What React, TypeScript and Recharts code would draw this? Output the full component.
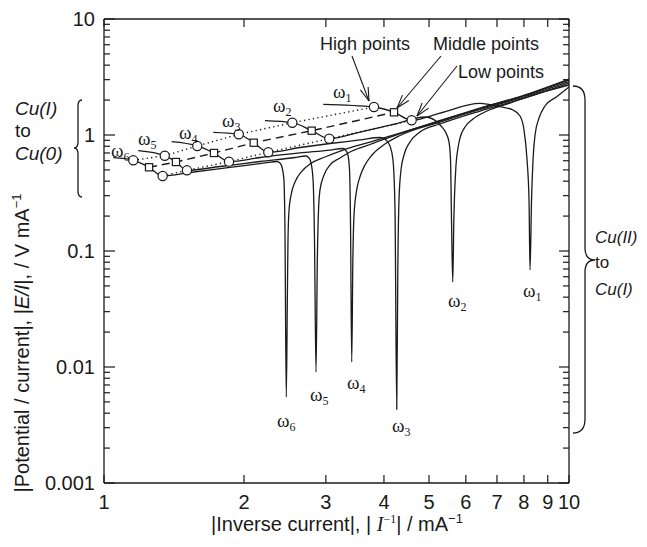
import React from "react";
import { LineChart, Line, XAxis, YAxis } from "recharts";

// ---- data (x = |1/I| mA^-1, y = |E/I| V mA^-1) ----
const w1 = [
  { x: 2.962, y: 1.839 }, { x: 3.807, y: 1.743 }, { x: 4.204, y: 1.569 }, { x: 4.588, y: 1.339 },
  { x: 5.279, y: 1.547 }, { x: 6.436, y: 1.87 }, { x: 7.107, y: 1.754 }, { x: 7.58, y: 1.643 },
  { x: 7.847, y: 1.458 }, { x: 8.004, y: 1.104 }, { x: 8.124, y: 0.609 }, { x: 8.204, y: 0.275 },
  { x: 8.245, y: 0.0686 }, { x: 8.307, y: 0.275 }, { x: 8.368, y: 0.609 }, { x: 8.452, y: 1.0 },
  { x: 8.621, y: 1.401 }, { x: 8.879, y: 1.778 }, { x: 9.409, y: 2.139 }, { x: 10, y: 2.594 },
];
const w2 = [
  { x: 2.219, y: 1.328 }, { x: 2.541, y: 1.276 }, { x: 2.797, y: 1.089 }, { x: 3.051, y: 0.929 },
  { x: 3.552, y: 1.061 }, { x: 4.225, y: 1.244 }, { x: 4.901, y: 1.429 }, { x: 5.176, y: 1.32 },
  { x: 5.305, y: 1.196 }, { x: 5.439, y: 1.04 }, { x: 5.52, y: 0.87 }, { x: 5.562, y: 0.609 },
  { x: 5.589, y: 0.185 }, { x: 5.623, y: 0.054 }, { x: 5.654, y: 0.185 }, { x: 5.715, y: 0.551 },
  { x: 5.772, y: 0.773 }, { x: 5.829, y: 0.942 }, { x: 5.975, y: 1.172 }, { x: 6.217, y: 1.374 },
  { x: 6.664, y: 1.61 }, { x: 7.466, y: 1.887 }, { x: 8.663, y: 2.302 }, { x: 10, y: 2.698 },
];
const w3 = [
  { x: 1.718, y: 1.055 }, { x: 1.949, y: 1.014 }, { x: 2.099, y: 0.858 }, { x: 2.256, y: 0.71 },
  { x: 2.639, y: 0.78 }, { x: 3.062, y: 0.845 }, { x: 3.552, y: 0.906 }, { x: 3.923, y: 0.952 },
  { x: 4.041, y: 0.906 }, { x: 4.121, y: 0.804 }, { x: 4.183, y: 0.609 }, { x: 4.225, y: 0.2257 },
  { x: 4.261, y: 0.00432 }, { x: 4.284, y: 0.0686 }, { x: 4.309, y: 0.275 }, { x: 4.352, y: 0.499 },
  { x: 4.417, y: 0.672 }, { x: 4.55, y: 0.87 }, { x: 4.781, y: 1.061 }, { x: 5.28, y: 1.244 },
  { x: 6.436, y: 1.61 }, { x: 7.847, y: 2.023 }, { x: 10, y: 2.807 },
];
const w4 = [
  { x: 1.398, y: 0.876 }, { x: 1.587, y: 0.804 }, { x: 1.724, y: 0.7 }, { x: 1.857, y: 0.589 },
  { x: 2.165, y: 0.64 }, { x: 2.639, y: 0.7 }, { x: 3.062, y: 0.742 }, { x: 3.266, y: 0.765 },
  { x: 3.314, y: 0.735 }, { x: 3.347, y: 0.672 }, { x: 3.373, y: 0.499 }, { x: 3.389, y: 0.185 },
  { x: 3.41, y: 0.01104 }, { x: 3.429, y: 0.0836 }, { x: 3.449, y: 0.2044 }, { x: 3.495, y: 0.336 },
  { x: 3.552, y: 0.437 }, { x: 3.641, y: 0.551 }, { x: 3.77, y: 0.672 }, { x: 4.021, y: 0.836 },
  { x: 4.331, y: 0.99 }, { x: 5.28, y: 1.294 }, { x: 6.436, y: 1.659 }, { x: 7.847, y: 2.084 },
  { x: 10, y: 2.892 },
];
const w5 = [
  { x: 1.185, y: 0.732 }, { x: 1.351, y: 0.663 }, { x: 1.428, y: 0.585 }, { x: 1.508, y: 0.496 },
  { x: 1.776, y: 0.535 }, { x: 2.165, y: 0.591 }, { x: 2.575, y: 0.64 }, { x: 2.719, y: 0.659 },
  { x: 2.76, y: 0.633 }, { x: 2.788, y: 0.574 }, { x: 2.816, y: 0.409 }, { x: 2.836, y: 0.1244 },
  { x: 2.857, y: 0.00905 }, { x: 2.876, y: 0.0836 }, { x: 2.893, y: 0.2257 }, { x: 2.914, y: 0.336 },
  { x: 2.973, y: 0.452 }, { x: 3.062, y: 0.551 }, { x: 3.218, y: 0.633 }, { x: 3.414, y: 0.728 },
  { x: 3.733, y: 0.828 }, { x: 4.331, y: 1.03 }, { x: 5.28, y: 1.32 }, { x: 6.436, y: 1.692 },
  { x: 7.847, y: 2.126 }, { x: 10, y: 2.98 },
];
const w6 = [
  { x: 1.047, y: 0.637 }, { x: 1.156, y: 0.605 }, { x: 1.25, y: 0.527 }, { x: 1.337, y: 0.443 },
  { x: 1.531, y: 0.475 }, { x: 1.866, y: 0.525 }, { x: 2.22, y: 0.574 }, { x: 2.355, y: 0.591 },
  { x: 2.39, y: 0.574 }, { x: 2.414, y: 0.53 }, { x: 2.438, y: 0.409 }, { x: 2.45, y: 0.152 },
  { x: 2.466, y: 0.00551 }, { x: 2.479, y: 0.0378 }, { x: 2.487, y: 0.1244 }, { x: 2.5, y: 0.2257 },
  { x: 2.525, y: 0.304 }, { x: 2.575, y: 0.393 }, { x: 2.666, y: 0.489 }, { x: 2.773, y: 0.562 },
  { x: 2.987, y: 0.646 }, { x: 3.266, y: 0.742 }, { x: 3.733, y: 0.87 }, { x: 4.331, y: 1.04 },
  { x: 5.28, y: 1.334 }, { x: 6.436, y: 1.709 }, { x: 7.847, y: 2.147 }, { x: 10, y: 3.04 },
];
const highPts = [
  { x: 1.156, y: 0.605 }, { x: 1.351, y: 0.663 }, { x: 1.587, y: 0.804 },
  { x: 1.949, y: 1.014 }, { x: 2.541, y: 1.276 }, { x: 3.807, y: 1.743 },
];
const midPts = [
  { x: 1.25, y: 0.527 }, { x: 1.428, y: 0.585 }, { x: 1.724, y: 0.7 },
  { x: 2.099, y: 0.858 }, { x: 2.797, y: 1.089 }, { x: 4.204, y: 1.569 },
];
const lowPts = [
  { x: 1.337, y: 0.443 }, { x: 1.508, y: 0.496 }, { x: 1.857, y: 0.589 },
  { x: 2.256, y: 0.71 }, { x: 3.051, y: 0.929 }, { x: 4.588, y: 1.339 },
];
const xTicks = [1, 2, 3, 4, 5, 6, 7, 8, 9, 10];
const yTicks = [
  0.001, 0.002, 0.003, 0.004, 0.005, 0.006, 0.007, 0.008, 0.009,
  0.01, 0.02, 0.03, 0.04, 0.05, 0.06, 0.07, 0.08, 0.09,
  0.1, 0.2, 0.3, 0.4, 0.5, 0.6, 0.7, 0.8, 0.9,
  1, 2, 3, 4, 5, 6, 7, 8, 9, 10,
];
const yLabelled = [0.001, 0.01, 0.1, 1, 10];

const SANS = "'Liberation Sans', Arial, Helvetica, sans-serif";
const SERIF = "'Liberation Serif', 'Times New Roman', serif";
const INK = "#1a1a1a";

const BottomTick = (p: any) => (
  <g>
    <line x1={p.x} x2={p.x} y1={p.y} y2={p.y - 8} stroke={INK} strokeWidth={1.2} />
    <text x={p.x} y={p.y + 26} textAnchor="middle" fontSize={20} fontFamily={SANS} fill={INK}>
      {p.payload.value}
    </text>
  </g>
);
const TopTick = (p: any) => (
  <line x1={p.x} x2={p.x} y1={p.y} y2={p.y + 8} stroke={INK} strokeWidth={1.2} />
);
const LeftTick = (p: any) => {
  const major = yLabelled.includes(p.payload.value);
  return (
    <g>
      <line x1={p.x} x2={p.x + (major ? 11 : 6)} y1={p.y} y2={p.y} stroke={INK} strokeWidth={1.2} />
      {major && (
        <text x={p.x - 9} y={p.y} dy="0.36em" textAnchor="end" fontSize={20} fontFamily={SANS} fill={INK}>
          {String(p.payload.value)}
        </text>
      )}
    </g>
  );
};
const RightTick = (p: any) => {
  const major = yLabelled.includes(p.payload.value);
  return <line x1={p.x} x2={p.x - (major ? 10 : 6)} y1={p.y} y2={p.y} stroke={INK} strokeWidth={1.2} />;
};

const CircleDot = (p: any) =>
  p.cx == null ? null : (
    <circle key={`c${p.index}`} cx={p.cx} cy={p.cy} r={4.6} fill="#fff" stroke={INK} strokeWidth={1.2} />
  );
const SquareDot = (p: any) =>
  p.cx == null ? null : (
    <rect key={`s${p.index}`} x={p.cx - 3.6} y={p.cy - 3.6} width={7.2} height={7.2} fill="#fff" stroke={INK} strokeWidth={1.2} />
  );

const Omega = ({ x, y, n }: { x: number; y: number; n: number }) => (
  <text x={x} y={y} fontFamily={SERIF} fontSize={19} fill={INK}>
    ω<tspan fontSize={12} dy={4}>{n}</tspan>
  </text>
);

const Arrow = ({ x1, y1, x2, y2 }: { x1: number; y1: number; x2: number; y2: number }) => {
  const a = Math.atan2(y2 - y1, x2 - x1);
  const L = 14;
  const s = 0.3;
  const h1x = x2 - L * Math.cos(a - s), h1y = y2 - L * Math.sin(a - s);
  const h2x = x2 - L * Math.cos(a + s), h2y = y2 - L * Math.sin(a + s);
  return (
    <g stroke={INK} strokeWidth={1.1} fill="none">
      <line x1={x1} y1={y1} x2={x2} y2={y2} />
      <line x1={h1x} y1={h1y} x2={x2} y2={y2} />
      <line x1={h2x} y1={h2y} x2={x2} y2={y2} />
    </g>
  );
};

const curves = [w1, w2, w3, w4, w5, w6];

export default function App() {
  return (
    <div style={{ position: "relative", width: 631, height: 528 }}>
      <LineChart width={631} height={528} margin={{ top: 10, right: 0, bottom: 0, left: 0 }}>
        <XAxis
          xAxisId="b" type="number" dataKey="x" scale="log" domain={[1, 10]} allowDataOverflow
          ticks={xTicks} interval={0} height={53} tickSize={0} tickMargin={0}
          tick={<BottomTick />} tickLine={false} axisLine={{ stroke: INK, strokeWidth: 1.3 }}
        />
        <XAxis
          xAxisId="t" orientation="top" type="number" dataKey="x" scale="log" domain={[1, 10]} allowDataOverflow
          ticks={xTicks} interval={0} height={1} tickSize={0} tickMargin={0}
          tick={<TopTick />} tickLine={false} axisLine={{ stroke: INK, strokeWidth: 1.3 }}
        />
        <YAxis
          yAxisId="l" type="number" dataKey="y" scale="log" domain={[0.001, 10]} allowDataOverflow
          ticks={yTicks} interval={0} width={96} tickSize={0} tickMargin={0}
          tick={<LeftTick />} tickLine={false} axisLine={{ stroke: INK, strokeWidth: 1.3 }}
        />
        <YAxis
          yAxisId="r" orientation="right" type="number" dataKey="y" scale="log" domain={[0.001, 10]} allowDataOverflow
          ticks={yTicks} interval={0} width={70} tickSize={0} tickMargin={0}
          tick={<RightTick />} tickLine={false} axisLine={{ stroke: INK, strokeWidth: 1.3 }}
        />
        <Line data={w1} xAxisId="t" yAxisId="r" dataKey="y" stroke="none" dot={false} isAnimationActive={false} />
        {curves.map((c, i) => (
          <Line
            key={`w${i}`} data={c} xAxisId="b" yAxisId="l" dataKey="y" type="monotone"
            stroke={INK} strokeWidth={1.3} dot={false} isAnimationActive={false}
          />
        ))}
        <Line data={highPts} xAxisId="b" yAxisId="l" dataKey="y" type="linear" stroke={INK}
          strokeWidth={1.4} strokeDasharray="1.3 3.2" dot={<CircleDot />} isAnimationActive={false} />
        <Line data={midPts} xAxisId="b" yAxisId="l" dataKey="y" type="linear" stroke={INK}
          strokeWidth={1.4} strokeDasharray="8 5" dot={<SquareDot />} isAnimationActive={false} />
        <Line data={lowPts} xAxisId="b" yAxisId="l" dataKey="y" type="linear" stroke={INK}
          strokeWidth={1.4} strokeDasharray="1.3 3.2" dot={<CircleDot />} isAnimationActive={false} />
      </LineChart>
      <svg width={631} height={528} style={{ position: "absolute", left: 0, top: 0, pointerEvents: "none" }}>
        {/* axis titles */}
        <text transform="translate(21,335) rotate(-90)" textAnchor="middle" fontSize={20} fontFamily={SANS} fill={INK}>
          |Potential / current|, |<tspan fontStyle="italic">E/I</tspan>|, / V mA<tspan fontSize={13} dy={-8}>−1</tspan>
        </text>
        <text x={329} y={523} textAnchor="middle" fontSize={20} fontFamily={SANS} fill={INK}>
          |Inverse current|, |{" "}<tspan fontFamily={SERIF} fontStyle="italic">I</tspan>
          <tspan fontSize={12} dy={-8} fontFamily={SERIF}>−1</tspan>
          <tspan dy={8}>| / mA</tspan>
          <tspan fontSize={13} dy={-8}>−1</tspan>
        </text>
        {/* left brace & label */}
        <text x={7} y={107} fontSize={19} fontFamily={SANS} fontStyle="italic" fill={INK}>Cu(I)</text>
        <text x={7} y={129} fontSize={19} fontFamily={SANS} fill={INK}>to</text>
        <text x={7} y={152} fontSize={19} fontFamily={SANS} fontStyle="italic" fill={INK}>Cu(0)</text>
        <path d="M74,92 Q70,92 70,98 L70,134 Q70,140 66,140 Q70,140 70,146 L70,183 Q70,189 74,189"
          fill="none" stroke={INK} strokeWidth={1.3} />
        {/* right brace & label */}
        <path d="M565,78 Q577,78 577,92 L577,240 Q577,252 587,252 Q577,252 577,264 L577,411 Q577,425 565,425"
          fill="none" stroke={INK} strokeWidth={1.3} />
        <text x={587} y={235} fontSize={17} fontFamily={SANS} fontStyle="italic" fill={INK}>Cu(II)</text>
        <text x={587} y={260} fontSize={17} fontFamily={SANS} fill={INK}>to</text>
        <text x={587} y={287} fontSize={17} fontFamily={SANS} fontStyle="italic" fill={INK}>Cu(I)</text>
        {/* point annotations */}
        <text x={312} y={42} fontSize={18} fontFamily={SANS} fill={INK}>High points</text>
        <text x={425} y={42} fontSize={18} fontFamily={SANS} fill={INK}>Middle points</text>
        <text x={450} y={70} fontSize={18} fontFamily={SANS} fill={INK}>Low points</text>
        <Arrow x1={344} y1={48} x2={361} y2={93} />
        <Arrow x1={433} y1={48} x2={389} y2={100} />
        <Arrow x1={449} y1={58} x2={409} y2={108} />
        {/* omega labels near starting segments */}
        <Omega x={103} y={149} n={6} />
        <Omega x={130} y={137} n={5} />
        <Omega x={171} y={131} n={4} />
        <Omega x={214} y={119} n={3} />
        <Omega x={265} y={104} n={2} />
        <Omega x={325} y={90} n={1} />
        {/* omega labels near dips */}
        <Omega x={269} y={419} n={6} />
        <Omega x={302} y={393} n={5} />
        <Omega x={339} y={381} n={4} />
        <Omega x={384} y={424} n={3} />
        <Omega x={440} y={299} n={2} />
        <Omega x={515} y={289} n={1} />
      </svg>
    </div>
  );
}
